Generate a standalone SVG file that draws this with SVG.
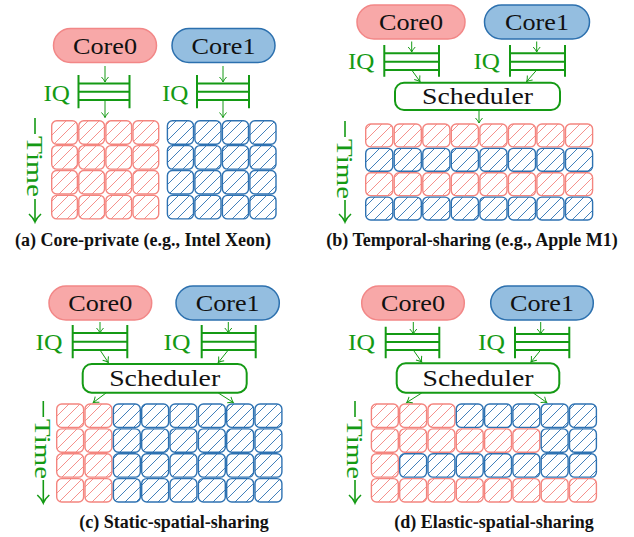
<svg xmlns="http://www.w3.org/2000/svg" width="634" height="537" viewBox="0 0 634 537">
<style>
.pr{fill:#f8a8a8;stroke:#f28787;stroke-width:1.5}
.pb{fill:#94bee0;stroke:#2c70ae;stroke-width:1.5}
.lbl{font-family:'Liberation Serif','DejaVu Serif',serif;font-size:24px;fill:#111;text-anchor:middle}
.iqt{font-family:'Liberation Serif','DejaVu Serif',serif;font-size:24px;fill:#149a14}
.iq{stroke:#149a14;stroke-width:2;fill:none}
.sch{fill:#fff;stroke:#149a14;stroke-width:2}
.cr{fill:url(#hr);stroke:#f4857f;stroke-width:1.4}
.cb{fill:url(#hb);stroke:#2e72b2;stroke-width:1.4}
.cn{stroke:#149a14;stroke-width:1;fill:none;marker-end:url(#ah)}
.tl{stroke:#149a14;stroke-width:1.6;fill:none}
.ta{stroke:#149a14;stroke-width:1.6;fill:none;marker-end:url(#th)}
.tt{font-family:'Liberation Serif','DejaVu Serif',serif;font-size:24px;fill:#149a14}
.cap{font-family:'Liberation Serif','DejaVu Serif',serif;font-weight:bold;font-size:18px;fill:#111;text-anchor:middle}
</style>
<defs>
<pattern id="hr" patternUnits="userSpaceOnUse" width="11" height="11">
<rect width="11" height="11" fill="#fff"/>
<path d="M-1,1 L1,-1 M0,11 L11,0 M10,12 L12,10" stroke="#f4857f" stroke-width="0.9"/>
</pattern>
<pattern id="hb" patternUnits="userSpaceOnUse" width="11" height="11">
<rect width="11" height="11" fill="#fff"/>
<path d="M-1,1 L1,-1 M0,11 L11,0 M10,12 L12,10" stroke="#2e72b2" stroke-width="0.9"/>
</pattern>
<marker id="ah" markerUnits="userSpaceOnUse" markerWidth="10" markerHeight="10" viewBox="0 0 10 10" refX="7" refY="5" orient="auto">
<path d="M2,1.5 Q5,4.2 7,5 Q5,5.8 2,8.5" stroke="#149a14" stroke-width="1" fill="none"/>
</marker>
<marker id="th" markerUnits="userSpaceOnUse" markerWidth="14" markerHeight="14" viewBox="0 0 14 14" refX="11" refY="7" orient="auto">
<path d="M3,1 Q7,5.5 11,7 Q7,8.5 3,13" stroke="#149a14" stroke-width="1.6" fill="none"/>
</marker>
</defs>

<!-- Panel (a) -->
<g id="a-core0"><rect class="pr" x="53.5" y="28.5" width="103" height="34" rx="17"/><text class="lbl" x="105" y="53.5" textLength="64" lengthAdjust="spacingAndGlyphs">Core0</text></g>
<g id="a-core1"><rect class="pb" x="172" y="28.5" width="103" height="34" rx="17"/><text class="lbl" x="223.5" y="53.5" textLength="64" lengthAdjust="spacingAndGlyphs">Core1</text></g>
<g id="a-iq0"><text class="iqt" x="43.5" y="100.5" textLength="26.5" lengthAdjust="spacingAndGlyphs">IQ</text><path class="iq" d="M78.5,75 V108.3 M129.5,75 V108.3 M78.5,83.5 H129.5 M78.5,91.8 H129.5 M78.5,100 H129.5"/></g>
<g id="a-iq1"><text class="iqt" x="162" y="100.5" textLength="26.5" lengthAdjust="spacingAndGlyphs">IQ</text><path class="iq" d="M197,75 V108.3 M249,75 V108.3 M197,83.5 H249 M197,91.8 H249 M197,100 H249"/></g>
<g id="a-time"><path class="tl" d="M35,118 V134"/><text class="tt" transform="translate(27,136) rotate(90)" textLength="61" lengthAdjust="spacingAndGlyphs">Time</text><path class="ta" d="M35,199 V222"/></g>
<g id="a-grid0">
<rect class="cr" x="51.7" y="120.7" width="25.7" height="23.5" rx="5"/><rect class="cr" x="78.8" y="120.7" width="25.7" height="23.5" rx="5"/><rect class="cr" x="105.9" y="120.7" width="25.7" height="23.5" rx="5"/><rect class="cr" x="133" y="120.7" width="25.7" height="23.5" rx="5"/>
<rect class="cr" x="51.7" y="145.6" width="25.7" height="23.5" rx="5"/><rect class="cr" x="78.8" y="145.6" width="25.7" height="23.5" rx="5"/><rect class="cr" x="105.9" y="145.6" width="25.7" height="23.5" rx="5"/><rect class="cr" x="133" y="145.6" width="25.7" height="23.5" rx="5"/>
<rect class="cr" x="51.7" y="170.5" width="25.7" height="23.5" rx="5"/><rect class="cr" x="78.8" y="170.5" width="25.7" height="23.5" rx="5"/><rect class="cr" x="105.9" y="170.5" width="25.7" height="23.5" rx="5"/><rect class="cr" x="133" y="170.5" width="25.7" height="23.5" rx="5"/>
<rect class="cr" x="51.7" y="195.4" width="25.7" height="23.5" rx="5"/><rect class="cr" x="78.8" y="195.4" width="25.7" height="23.5" rx="5"/><rect class="cr" x="105.9" y="195.4" width="25.7" height="23.5" rx="5"/><rect class="cr" x="133" y="195.4" width="25.7" height="23.5" rx="5"/>
</g>
<g id="a-grid1">
<rect class="cb" x="167.4" y="120.7" width="26.1" height="23.5" rx="5"/><rect class="cb" x="194.9" y="120.7" width="26.1" height="23.5" rx="5"/><rect class="cb" x="222.4" y="120.7" width="26.1" height="23.5" rx="5"/><rect class="cb" x="249.9" y="120.7" width="26.1" height="23.5" rx="5"/>
<rect class="cb" x="167.4" y="145.6" width="26.1" height="23.5" rx="5"/><rect class="cb" x="194.9" y="145.6" width="26.1" height="23.5" rx="5"/><rect class="cb" x="222.4" y="145.6" width="26.1" height="23.5" rx="5"/><rect class="cb" x="249.9" y="145.6" width="26.1" height="23.5" rx="5"/>
<rect class="cb" x="167.4" y="170.5" width="26.1" height="23.5" rx="5"/><rect class="cb" x="194.9" y="170.5" width="26.1" height="23.5" rx="5"/><rect class="cb" x="222.4" y="170.5" width="26.1" height="23.5" rx="5"/><rect class="cb" x="249.9" y="170.5" width="26.1" height="23.5" rx="5"/>
<rect class="cb" x="167.4" y="195.4" width="26.1" height="23.5" rx="5"/><rect class="cb" x="194.9" y="195.4" width="26.1" height="23.5" rx="5"/><rect class="cb" x="222.4" y="195.4" width="26.1" height="23.5" rx="5"/><rect class="cb" x="249.9" y="195.4" width="26.1" height="23.5" rx="5"/>
</g>
<text id="cap-a" class="cap" x="143" y="246">(a) Core-private (e.g., Intel Xeon)</text>

<!-- Panel (b) -->
<g id="b-core0"><rect class="pr" x="357" y="5" width="108" height="34" rx="17"/><text class="lbl" x="411" y="30" textLength="64" lengthAdjust="spacingAndGlyphs">Core0</text></g>
<g id="b-core1"><rect class="pb" x="484.5" y="5" width="105" height="34" rx="17"/><text class="lbl" x="537" y="30" textLength="64" lengthAdjust="spacingAndGlyphs">Core1</text></g>
<g id="b-iq0"><text class="iqt" x="348" y="69" textLength="26.5" lengthAdjust="spacingAndGlyphs">IQ</text><path class="iq" d="M384.3,45 V76.7 M439,45 V76.7 M384.3,53.3 H439 M384.3,61.7 H439 M384.3,70 H439"/></g>
<g id="b-iq1"><text class="iqt" x="473.5" y="69" textLength="26.5" lengthAdjust="spacingAndGlyphs">IQ</text><path class="iq" d="M510,45 V76.7 M565,45 V76.7 M510,53.3 H565 M510,61.7 H565 M510,70 H565"/></g>
<g id="b-sched"><rect class="sch" x="395" y="82.7" width="165" height="27.3" rx="9"/><text class="lbl" x="477.5" y="104" textLength="111" lengthAdjust="spacingAndGlyphs">Scheduler</text></g>
<g id="b-time"><path class="tl" d="M345,121 V137"/><text class="tt" transform="translate(337,139) rotate(90)" textLength="60" lengthAdjust="spacingAndGlyphs">Time</text><path class="ta" d="M345,200 V222"/></g>
<g id="b-grid">
<rect class="cr" x="365.7" y="124" width="27.1" height="22.9" rx="5"/><rect class="cr" x="394.2" y="124" width="27.1" height="22.9" rx="5"/><rect class="cr" x="422.8" y="124" width="27.1" height="22.9" rx="5"/><rect class="cr" x="451.3" y="124" width="27.1" height="22.9" rx="5"/><rect class="cr" x="479.9" y="124" width="27.1" height="22.9" rx="5"/><rect class="cr" x="508.4" y="124" width="27.1" height="22.9" rx="5"/><rect class="cr" x="536.9" y="124" width="27.1" height="22.9" rx="5"/><rect class="cr" x="565.5" y="124" width="27.1" height="22.9" rx="5"/>
<rect class="cb" x="365.7" y="148.4" width="27.1" height="22.9" rx="5"/><rect class="cb" x="394.2" y="148.4" width="27.1" height="22.9" rx="5"/><rect class="cb" x="422.8" y="148.4" width="27.1" height="22.9" rx="5"/><rect class="cb" x="451.3" y="148.4" width="27.1" height="22.9" rx="5"/><rect class="cb" x="479.9" y="148.4" width="27.1" height="22.9" rx="5"/><rect class="cb" x="508.4" y="148.4" width="27.1" height="22.9" rx="5"/><rect class="cb" x="536.9" y="148.4" width="27.1" height="22.9" rx="5"/><rect class="cb" x="565.5" y="148.4" width="27.1" height="22.9" rx="5"/>
<rect class="cr" x="365.7" y="172.7" width="27.1" height="22.9" rx="5"/><rect class="cr" x="394.2" y="172.7" width="27.1" height="22.9" rx="5"/><rect class="cr" x="422.8" y="172.7" width="27.1" height="22.9" rx="5"/><rect class="cr" x="451.3" y="172.7" width="27.1" height="22.9" rx="5"/><rect class="cr" x="479.9" y="172.7" width="27.1" height="22.9" rx="5"/><rect class="cr" x="508.4" y="172.7" width="27.1" height="22.9" rx="5"/><rect class="cr" x="536.9" y="172.7" width="27.1" height="22.9" rx="5"/><rect class="cr" x="565.5" y="172.7" width="27.1" height="22.9" rx="5"/>
<rect class="cb" x="365.7" y="197.1" width="27.1" height="22.9" rx="5"/><rect class="cb" x="394.2" y="197.1" width="27.1" height="22.9" rx="5"/><rect class="cb" x="422.8" y="197.1" width="27.1" height="22.9" rx="5"/><rect class="cb" x="451.3" y="197.1" width="27.1" height="22.9" rx="5"/><rect class="cb" x="479.9" y="197.1" width="27.1" height="22.9" rx="5"/><rect class="cb" x="508.4" y="197.1" width="27.1" height="22.9" rx="5"/><rect class="cb" x="536.9" y="197.1" width="27.1" height="22.9" rx="5"/><rect class="cb" x="565.5" y="197.1" width="27.1" height="22.9" rx="5"/>
</g>
<text id="cap-b" class="cap" x="472" y="246">(b) Temporal-sharing (e.g., Apple M1)</text>

<!-- Panel (c) -->
<g id="c-core0"><rect class="pr" x="49" y="286" width="102.7" height="34" rx="17"/><text class="lbl" x="100.3" y="311" textLength="64" lengthAdjust="spacingAndGlyphs">Core0</text></g>
<g id="c-core1"><rect class="pb" x="176" y="286" width="103.3" height="34" rx="17"/><text class="lbl" x="227.7" y="311" textLength="64" lengthAdjust="spacingAndGlyphs">Core1</text></g>
<g id="c-iq0"><text class="iqt" x="35.5" y="350" textLength="27" lengthAdjust="spacingAndGlyphs">IQ</text><path class="iq" d="M72.7,325 V358.3 M127.3,325 V358.3 M72.7,333 H127.3 M72.7,341.7 H127.3 M72.7,350 H127.3"/></g>
<g id="c-iq1"><text class="iqt" x="163.5" y="350" textLength="27" lengthAdjust="spacingAndGlyphs">IQ</text><path class="iq" d="M201.7,325 V358.3 M255.7,325 V358.3 M201.7,333 H255.7 M201.7,341.7 H255.7 M201.7,350 H255.7"/></g>
<g id="c-sched"><rect class="sch" x="82.7" y="364" width="164" height="28.7" rx="9"/><text class="lbl" x="164.7" y="386" textLength="111" lengthAdjust="spacingAndGlyphs">Scheduler</text></g>
<g id="c-time"><path class="tl" d="M43.3,401 V417"/><text class="tt" transform="translate(35.3,419) rotate(90)" textLength="60" lengthAdjust="spacingAndGlyphs">Time</text><path class="ta" d="M43.3,480 V503"/></g>
<g id="c-grid">
<rect class="cr" x="56.7" y="404" width="26.9" height="23.4" rx="5"/><rect class="cr" x="85" y="404" width="26.9" height="23.4" rx="5"/><rect class="cb" x="113.4" y="404" width="26.9" height="23.4" rx="5"/><rect class="cb" x="141.7" y="404" width="26.9" height="23.4" rx="5"/><rect class="cb" x="170" y="404" width="26.9" height="23.4" rx="5"/><rect class="cb" x="198.4" y="404" width="26.9" height="23.4" rx="5"/><rect class="cb" x="226.7" y="404" width="26.9" height="23.4" rx="5"/><rect class="cb" x="255" y="404" width="26.9" height="23.4" rx="5"/>
<rect class="cr" x="56.7" y="428.9" width="26.9" height="23.4" rx="5"/><rect class="cr" x="85" y="428.9" width="26.9" height="23.4" rx="5"/><rect class="cb" x="113.4" y="428.9" width="26.9" height="23.4" rx="5"/><rect class="cb" x="141.7" y="428.9" width="26.9" height="23.4" rx="5"/><rect class="cb" x="170" y="428.9" width="26.9" height="23.4" rx="5"/><rect class="cb" x="198.4" y="428.9" width="26.9" height="23.4" rx="5"/><rect class="cb" x="226.7" y="428.9" width="26.9" height="23.4" rx="5"/><rect class="cb" x="255" y="428.9" width="26.9" height="23.4" rx="5"/>
<rect class="cr" x="56.7" y="453.7" width="26.9" height="23.4" rx="5"/><rect class="cr" x="85" y="453.7" width="26.9" height="23.4" rx="5"/><rect class="cb" x="113.4" y="453.7" width="26.9" height="23.4" rx="5"/><rect class="cb" x="141.7" y="453.7" width="26.9" height="23.4" rx="5"/><rect class="cb" x="170" y="453.7" width="26.9" height="23.4" rx="5"/><rect class="cb" x="198.4" y="453.7" width="26.9" height="23.4" rx="5"/><rect class="cb" x="226.7" y="453.7" width="26.9" height="23.4" rx="5"/><rect class="cb" x="255" y="453.7" width="26.9" height="23.4" rx="5"/>
<rect class="cr" x="56.7" y="478.6" width="26.9" height="23.4" rx="5"/><rect class="cr" x="85" y="478.6" width="26.9" height="23.4" rx="5"/><rect class="cb" x="113.4" y="478.6" width="26.9" height="23.4" rx="5"/><rect class="cb" x="141.7" y="478.6" width="26.9" height="23.4" rx="5"/><rect class="cb" x="170" y="478.6" width="26.9" height="23.4" rx="5"/><rect class="cb" x="198.4" y="478.6" width="26.9" height="23.4" rx="5"/><rect class="cb" x="226.7" y="478.6" width="26.9" height="23.4" rx="5"/><rect class="cb" x="255" y="478.6" width="26.9" height="23.4" rx="5"/>
</g>
<text id="cap-c" class="cap" x="174" y="528">(c) Static-spatial-sharing</text>

<!-- Panel (d) -->
<g id="d-core0"><rect class="pr" x="361.7" y="286" width="102.6" height="34" rx="17"/><text class="lbl" x="413" y="311" textLength="64" lengthAdjust="spacingAndGlyphs">Core0</text></g>
<g id="d-core1"><rect class="pb" x="490.7" y="286" width="102.6" height="34" rx="17"/><text class="lbl" x="542" y="311" textLength="64" lengthAdjust="spacingAndGlyphs">Core1</text></g>
<g id="d-iq0"><text class="iqt" x="348" y="350" textLength="27" lengthAdjust="spacingAndGlyphs">IQ</text><path class="iq" d="M385.7,326.7 V358.3 M439.3,326.7 V358.3 M385.7,334 H439.3 M385.7,342 H439.3 M385.7,350 H439.3"/></g>
<g id="d-iq1"><text class="iqt" x="478" y="350" textLength="27" lengthAdjust="spacingAndGlyphs">IQ</text><path class="iq" d="M515,326.7 V358.3 M569.3,326.7 V358.3 M515,334 H569.3 M515,342 H569.3 M515,350 H569.3"/></g>
<g id="d-sched"><rect class="sch" x="396.7" y="363.3" width="162.6" height="29.4" rx="9"/><text class="lbl" x="478" y="386" textLength="111" lengthAdjust="spacingAndGlyphs">Scheduler</text></g>
<g id="d-time"><path class="tl" d="M355,401 V417"/><text class="tt" transform="translate(347,419) rotate(90)" textLength="60" lengthAdjust="spacingAndGlyphs">Time</text><path class="ta" d="M355,480 V503"/></g>
<g id="d-grid">
<rect class="cr" x="371.4" y="404" width="26.9" height="23.4" rx="5"/><rect class="cr" x="399.7" y="404" width="26.9" height="23.4" rx="5"/><rect class="cr" x="428" y="404" width="26.9" height="23.4" rx="5"/><rect class="cb" x="456.3" y="404" width="26.9" height="23.4" rx="5"/><rect class="cb" x="484.6" y="404" width="26.9" height="23.4" rx="5"/><rect class="cb" x="512.9" y="404" width="26.9" height="23.4" rx="5"/><rect class="cb" x="541.2" y="404" width="26.9" height="23.4" rx="5"/><rect class="cb" x="569.5" y="404" width="26.9" height="23.4" rx="5"/>
<rect class="cr" x="371.4" y="428.9" width="26.9" height="23.4" rx="5"/><rect class="cr" x="399.7" y="428.9" width="26.9" height="23.4" rx="5"/><rect class="cr" x="428" y="428.9" width="26.9" height="23.4" rx="5"/><rect class="cr" x="456.3" y="428.9" width="26.9" height="23.4" rx="5"/><rect class="cr" x="484.6" y="428.9" width="26.9" height="23.4" rx="5"/><rect class="cr" x="512.9" y="428.9" width="26.9" height="23.4" rx="5"/><rect class="cb" x="541.2" y="428.9" width="26.9" height="23.4" rx="5"/><rect class="cb" x="569.5" y="428.9" width="26.9" height="23.4" rx="5"/>
<rect class="cr" x="371.4" y="453.7" width="26.9" height="23.4" rx="5"/><rect class="cb" x="399.7" y="453.7" width="26.9" height="23.4" rx="5"/><rect class="cb" x="428" y="453.7" width="26.9" height="23.4" rx="5"/><rect class="cb" x="456.3" y="453.7" width="26.9" height="23.4" rx="5"/><rect class="cb" x="484.6" y="453.7" width="26.9" height="23.4" rx="5"/><rect class="cb" x="512.9" y="453.7" width="26.9" height="23.4" rx="5"/><rect class="cb" x="541.2" y="453.7" width="26.9" height="23.4" rx="5"/><rect class="cb" x="569.5" y="453.7" width="26.9" height="23.4" rx="5"/>
<rect class="cr" x="371.4" y="478.6" width="26.9" height="23.4" rx="5"/><rect class="cr" x="399.7" y="478.6" width="26.9" height="23.4" rx="5"/><rect class="cr" x="428" y="478.6" width="26.9" height="23.4" rx="5"/><rect class="cr" x="456.3" y="478.6" width="26.9" height="23.4" rx="5"/><rect class="cr" x="484.6" y="478.6" width="26.9" height="23.4" rx="5"/><rect class="cr" x="512.9" y="478.6" width="26.9" height="23.4" rx="5"/><rect class="cr" x="541.2" y="478.6" width="26.9" height="23.4" rx="5"/><rect class="cr" x="569.5" y="478.6" width="26.9" height="23.4" rx="5"/>
</g>
<text id="cap-d" class="cap" x="494" y="528">(d) Elastic-spatial-sharing</text>

<g id="connectors">
<path class="cn" d="M105,66 V82"/><path class="cn" d="M105,100 V117.5"/>
<path class="cn" d="M223,66 V82"/><path class="cn" d="M223,100 V117.5"/>
<path class="cn" d="M411.7,41.5 V52"/><path class="cn" d="M411.7,70 L420,81.5"/>
<path class="cn" d="M536.7,41.5 V52"/><path class="cn" d="M536.7,70 L526.7,81.5"/>
<path class="cn" d="M479,110.5 V123"/>
<path class="cn" d="M100,322 V333"/><path class="cn" d="M100,350 L108.3,362.5"/>
<path class="cn" d="M228.3,322 V333"/><path class="cn" d="M228.3,350 L218.3,362.5"/>
<path class="cn" d="M106,393 L93.3,402.5"/><path class="cn" d="M218.3,393 L233.3,402.5"/>
<path class="cn" d="M413.3,322 V334"/><path class="cn" d="M413.3,350 L421.7,362"/>
<path class="cn" d="M540.7,322 V334"/><path class="cn" d="M540.7,350 L531,362"/>
<path class="cn" d="M421.7,393 L406.7,402.5"/><path class="cn" d="M533.3,393 L546.7,402.5"/>
</g>
</svg>
